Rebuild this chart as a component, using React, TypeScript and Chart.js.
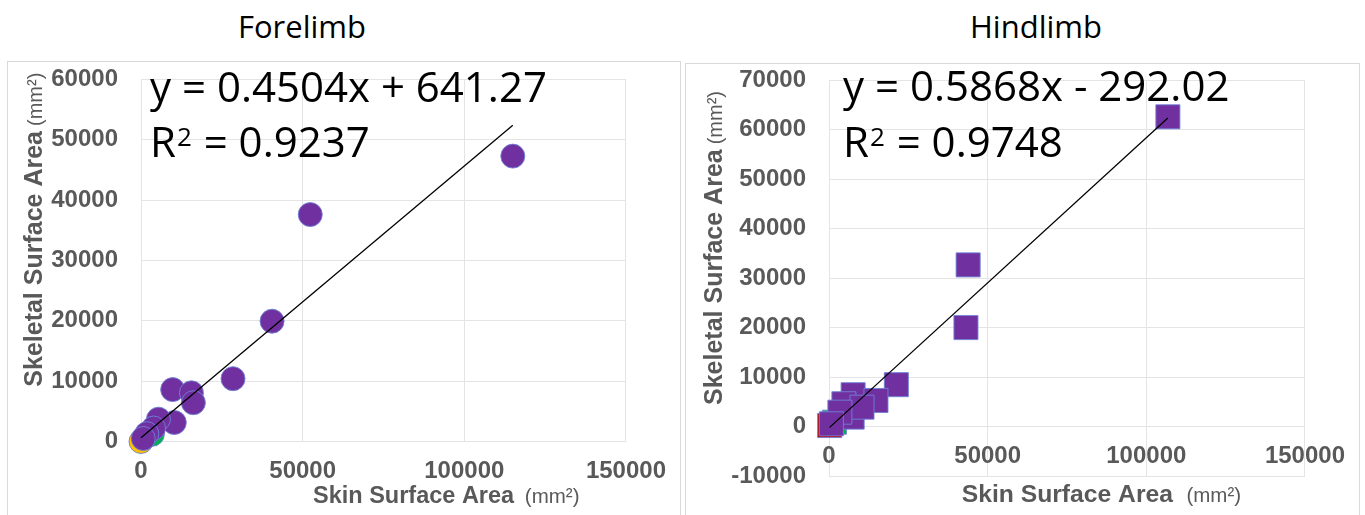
import React, { useEffect, useRef } from "react";
import { Chart, registerables } from "chart.js";

Chart.register(...registerables);

// ---------- Forelimb ----------
const foreSkinArea = [115000, 52350, 40540, 28460, 9800, 15600, 16200, 10300, 5400, 3900, 1800, 700];
const foreSkeletalArea = [47300, 37610, 19940, 10410, 8600, 8070, 6430, 3150, 3700, 2230, 1300, 500];
const foreSkinAreaGreen = [3500];
const foreSkeletalAreaGreen = [1200];
const foreSkinAreaGold = [0];
const foreSkeletalAreaGold = [0];
const FORE_SLOPE = 0.4504;
const FORE_INTERCEPT = 641.27;
const FORE_R2 = 0.9237;
const foreXTicks = [0, 50000, 100000, 150000];
const foreYTicks = [0, 10000, 20000, 30000, 40000, 50000, 60000];

// ---------- Hindlimb ----------
const hindSkinArea = [106800, 43850, 43160, 21220, 7300, 7600, 14800, 4690, 10400, 3430, 750];
const hindSkeletalArea = [62600, 32670, 20000, 8460, 1900, 6430, 5270, 4600, 3910, 2900, 550];
const hindSkinAreaGreen = [5700, 1700];
const hindSkeletalAreaGreen = [3900, 870];
const hindSkinAreaRed = [200];
const hindSkeletalAreaRed = [200];
const HIND_SLOPE = 0.5868;
const HIND_INTERCEPT = -292.02;
const HIND_R2 = 0.9748;
const hindXTicks = [0, 50000, 100000, 150000];
const hindYTicks = [-10000, 0, 10000, 20000, 30000, 40000, 50000, 60000, 70000];

const PURPLE = "#7030a0";
const GREEN = "#00b050";
const GOLD = "#ffc000";
const RED = "#c00000";
const GRID = "#e4e4e4";
const AXIS_TEXT = "#595959";
const ARIAL = '"Liberation Sans", Arial, sans-serif';
const EQ_FONT = '"Open Sans", sans-serif';

const toPoints = (xs: number[], ys: number[]) => xs.map((x, i) => ({ x, y: ys[i] }));

const equationText = (m: number, b: number) =>
  `y = ${m.toFixed(4)}x ${b < 0 ? "-" : "+"} ${Math.abs(b).toFixed(2)}`;

// Draws the trendline equation, R² and the two axis titles on top of the chart.
const annotatePlugin = {
  id: "annotate",
  afterDraw(chart: any) {
    const o = chart.options.plugins.annotate;
    if (!o) return;
    const ctx: CanvasRenderingContext2D = chart.ctx;
    ctx.save();

    // equation + R²
    ctx.fillStyle = "#000";
    ctx.textAlign = "left";
    ctx.textBaseline = "alphabetic";
    ctx.font = `${o.eq.size}px ${EQ_FONT}`;
    ctx.fillText(equationText(o.slope, o.intercept), o.eq.x, o.eq.y1);
    ctx.fillText("R", o.eq.x, o.eq.y2);
    const rw = ctx.measureText("R").width;
    const capTop = o.eq.y2 - o.eq.size * 0.714;
    ctx.font = `${o.eq.supSize}px ${EQ_FONT}`;
    ctx.fillText("2", o.eq.x + rw + 1, capTop + o.eq.supSize * 0.714);
    const sw = ctx.measureText("2").width;
    ctx.font = `${o.eq.size}px ${EQ_FONT}`;
    ctx.fillText(` = ${o.r2.toFixed(4)}`, o.eq.x + rw + sw + 2, o.eq.y2);

    // x axis title
    ctx.fillStyle = AXIS_TEXT;
    const xt = o.xTitle;
    ctx.font = `bold ${xt.size}px ${ARIAL}`;
    ctx.fillText("Skin Surface Area", xt.x, xt.y);
    const xw = ctx.measureText("Skin Surface Area").width;
    ctx.font = `${xt.unit}px ${ARIAL}`;
    ctx.fillText("(mm²)", xt.x + xw + xt.gap, xt.y);

    // y axis title (rotated)
    const yt = o.yTitle;
    ctx.translate(yt.x, yt.y);
    ctx.rotate(-Math.PI / 2);
    ctx.font = `bold ${yt.size}px ${ARIAL}`;
    ctx.fillText("Skeletal Surface Area", 0, 0);
    const yw = ctx.measureText("Skeletal Surface Area").width;
    ctx.font = `${yt.unit}px ${ARIAL}`;
    ctx.fillText("(mm²)", yw + yt.gap, 0);

    ctx.restore();
  },
};

type Series = { xs: number[]; ys: number[]; color: string };

type PanelSpec = {
  title: string;
  titleCenter: number;
  left: number;
  top: number;
  width: number;
  height: number;
  yAxisWidth: number;
  area: { top: number; right: number; bottom: number };
  xTicks: number[];
  yTicks: number[];
  slope: number;
  intercept: number;
  r2: number;
  pointStyle: string;
  radius: number;
  series: Series[];
  eq: { x: number; y1: number; y2: number; size: number; supSize: number };
  xTitle: { x: number; y: number; size: number; unit: number; gap: number };
  yTitle: { x: number; y: number; size: number; unit: number; gap: number };
};

const tickFont = { family: ARIAL, size: 24, weight: "bold" as const };

function Panel({ spec }: { spec: PanelSpec }) {
  const ref = useRef<HTMLCanvasElement | null>(null);

  useEffect(() => {
    if (!ref.current) return;
    const allX = spec.series.flatMap((s) => s.xs);
    const x0 = Math.min(...allX);
    const x1 = Math.max(...allX);
    const trend = [
      { x: x0, y: spec.slope * x0 + spec.intercept },
      { x: x1, y: spec.slope * x1 + spec.intercept },
    ];

    const datasets: any[] = [
      {
        label: "trend",
        data: trend,
        showLine: true,
        borderColor: "#000",
        borderWidth: 1.3,
        pointRadius: 0,
        clip: false,
      },
      ...spec.series.map((s) => ({
        data: toPoints(s.xs, s.ys),
        backgroundColor: s.color,
        borderColor: "rgba(110,130,215,0.9)",
        borderWidth: 1,
        pointStyle: spec.pointStyle,
        pointRadius: spec.radius,
        pointHoverRadius: spec.radius,
        clip: false,
      })),
    ];

    const padding = {
      left: 0,
      top: spec.area.top,
      right: spec.width - spec.area.right,
      bottom: spec.height - spec.area.bottom,
    };

    const config: any = {
      type: "scatter",
      data: { datasets },
      plugins: [annotatePlugin],
      options: {
        animation: false,
        responsive: false,
        events: [],
        layout: { autoPadding: false, padding: { ...padding } },
        plugins: {
          legend: { display: false },
          tooltip: { enabled: false },
          annotate: {
            slope: spec.slope,
            intercept: spec.intercept,
            r2: spec.r2,
            eq: spec.eq,
            xTitle: spec.xTitle,
            yTitle: spec.yTitle,
          },
        },
        scales: {
          x: {
            type: "linear",
            position: { y: 0 },
            min: spec.xTicks[0],
            max: spec.xTicks[spec.xTicks.length - 1],
            afterBuildTicks: (s: any) => {
              s.ticks = spec.xTicks.map((v) => ({ value: v }));
            },
            ticks: {
              font: tickFont,
              color: AXIS_TEXT,
              padding: 15,
              maxRotation: 0,
              autoSkip: false,
              callback: (v: any) => String(v),
            },
            grid: { color: GRID, drawTicks: false, lineWidth: 1 },
            border: { display: false },
          },
          y: {
            type: "linear",
            position: "left",
            min: spec.yTicks[0],
            max: spec.yTicks[spec.yTicks.length - 1],
            afterBuildTicks: (s: any) => {
              s.ticks = spec.yTicks.map((v) => ({ value: v }));
            },
            afterFit: (s: any) => {
              s.width = spec.yAxisWidth;
              // the plot area bounds are set by the layout padding alone
              s.paddingTop = 0;
              s.paddingBottom = 0;
            },
            ticks: {
              font: tickFont,
              color: AXIS_TEXT,
              padding: 23,
              autoSkip: false,
              callback: (v: any) => String(v),
            },
            grid: { color: GRID, drawTicks: false, lineWidth: 1 },
            border: { display: false },
          },
        },
      },
    };

    const chart = new Chart(ref.current, config);

    // nudge the layout padding until the plot area sits where it should
    for (let i = 0; i < 4; i++) {
      const yScale: any = chart.scales.y;
      const xScale: any = chart.scales.x;
      const top = yScale.getPixelForValue(spec.yTicks[spec.yTicks.length - 1]);
      const bottom = yScale.getPixelForValue(spec.yTicks[0]);
      const right = xScale.getPixelForValue(spec.xTicks[spec.xTicks.length - 1]);
      const dTop = spec.area.top - top;
      const dBottom = bottom - spec.area.bottom;
      const dRight = right - spec.area.right;
      if (Math.abs(dTop) < 0.25 && Math.abs(dBottom) < 0.25 && Math.abs(dRight) < 0.25) break;
      padding.top = Math.max(0, padding.top + dTop);
      padding.bottom = Math.max(0, padding.bottom + dBottom);
      padding.right = Math.max(0, padding.right + dRight);
      chart.config.options.layout.padding = { ...padding };
      chart.update();
    }

    return () => chart.destroy();
  }, [spec]);

  return (
    <>
      <div
        style={{
          position: "absolute",
          left: spec.titleCenter - 200,
          top: 8,
          width: 400,
          textAlign: "center",
          fontFamily: EQ_FONT,
          fontSize: 31,
          lineHeight: "36px",
          color: "#000",
        }}
      >
        {spec.title}
      </div>
      <div
        style={{
          position: "absolute",
          left: spec.left,
          top: spec.top,
          width: spec.width,
          height: spec.height + 20,
          border: "1px solid #d9d9d9",
          boxSizing: "border-box",
          background: "#fff",
        }}
      />
      <canvas
        ref={ref}
        width={spec.width}
        height={spec.height}
        style={{ position: "absolute", left: spec.left, top: spec.top }}
      />
    </>
  );
}

const forelimb: PanelSpec = {
  title: "Forelimb",
  titleCenter: 302,
  left: 7,
  top: 61,
  width: 674,
  height: 454,
  yAxisWidth: 134,
  area: { top: 18.5, right: 620, bottom: 380.5 },
  xTicks: foreXTicks,
  yTicks: foreYTicks,
  slope: FORE_SLOPE,
  intercept: FORE_INTERCEPT,
  r2: FORE_R2,
  pointStyle: "circle",
  radius: 12,
  series: [
    { xs: foreSkinArea, ys: foreSkeletalArea, color: PURPLE },
    { xs: foreSkinAreaGreen, ys: foreSkeletalAreaGreen, color: GREEN },
    { xs: foreSkinAreaGold, ys: foreSkeletalAreaGold, color: GOLD },
  ],
  eq: { x: 143, y1: 40.7, y2: 96, size: 42, supSize: 26 },
  xTitle: { x: 306, y: 442.3, size: 23.5, unit: 20.5, gap: 10.7 },
  yTitle: { x: 35, y: 325.7, size: 25, unit: 20, gap: 5 },
};

const hindlimb: PanelSpec = {
  title: "Hindlimb",
  titleCenter: 1036,
  left: 685,
  top: 63,
  width: 675,
  height: 452,
  yAxisWidth: 144,
  area: { top: 17.2, right: 623, bottom: 413 },
  xTicks: hindXTicks,
  yTicks: hindYTicks,
  slope: HIND_SLOPE,
  intercept: HIND_INTERCEPT,
  r2: HIND_R2,
  pointStyle: "rect",
  radius: 17,
  series: [
    { xs: hindSkinArea, ys: hindSkeletalArea, color: PURPLE },
    { xs: hindSkinAreaGreen, ys: hindSkeletalAreaGreen, color: GREEN },
    { xs: hindSkinAreaRed, ys: hindSkeletalAreaRed, color: RED },
  ],
  eq: { x: 158, y1: 37.7, y2: 94.3, size: 42, supSize: 26 },
  xTitle: { x: 276.7, y: 438.7, size: 24.7, unit: 20.5, gap: 13.4 },
  yTitle: { x: 37, y: 342, size: 25, unit: 20, gap: 5 },
};

export default function App() {
  return (
    <div
      style={{
        position: "fixed",
        left: 0,
        top: 0,
        width: 1365,
        height: 515,
        background: "#fff",
        overflow: "hidden",
      }}
    >
      <Panel spec={forelimb} />
      <Panel spec={hindlimb} />
    </div>
  );
}
